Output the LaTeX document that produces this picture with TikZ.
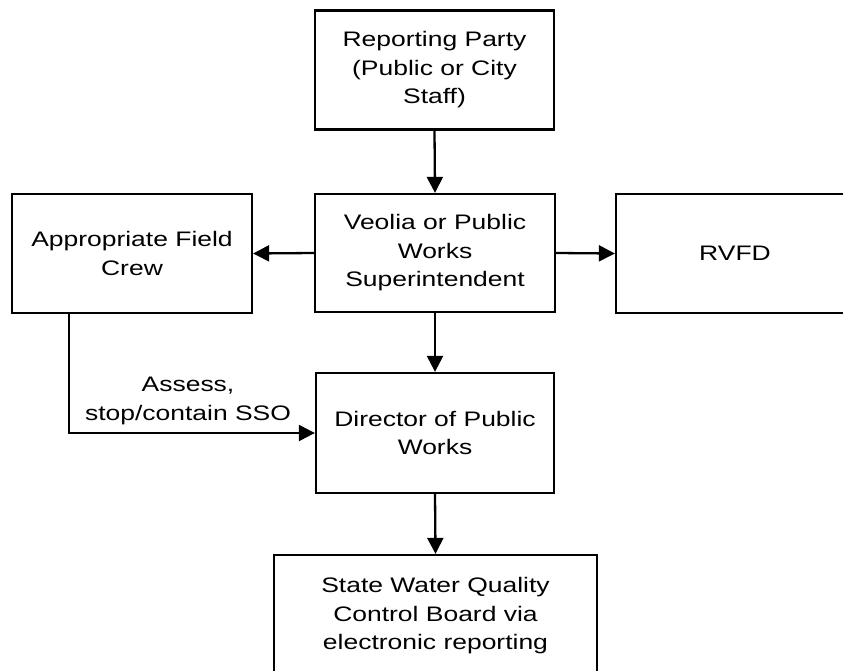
\documentclass[tikz,border=0pt]{standalone}
\usepackage{fontspec}
\setmainfont[FakeStretch=1.26]{Liberation Sans}
\usetikzlibrary{arrows.meta}
\begin{document}
\begin{tikzpicture}[x=1pt,y=-1pt,
  box/.style={draw=black,line width=2.3pt,rectangle,align=center,inner sep=0pt,
    font=\fontsize{21}{28.5}\selectfont},
  arr/.style={draw=black,line width=2.3pt,-{Triangle[length=16pt,width=16pt]}},
  lbl/.style={align=center,inner sep=0pt,font=\fontsize{21}{28.5}\selectfont}]
\clip (0,0) rectangle (843,671);
\fill[white] (0,0) rectangle (843,671);
\node[box,minimum width=239pt,minimum height=119pt] (rp) at (434.5,70) {Reporting Party\\(Public or City\\Staff)};
\node[box,minimum width=240pt,minimum height=118pt] (veo) at (435,253) {Veolia or Public\\Works\\Superintendent};
\node[box,minimum width=240pt,minimum height=119pt] (afc) at (132,253.5) {Appropriate Field\\Crew};
\node[box,minimum width=238pt,minimum height=119pt] (rvfd) at (735,253.5) {RVFD};
\node[box,minimum width=238pt,minimum height=120pt] (dir) at (435,433) {Director of Public\\Works};
\node[box,minimum width=323pt,minimum height=122pt] (swq) at (435.5,616) {State Water Quality\\Control Board via\\electronic reporting};
\node[lbl] (assess) at (188,401) {Assess,\\stop/contain SSO};
\coordinate (bend) at (69,433);
\draw[arr] (rp.south) -- (veo.north);
\draw[arr] (veo.west) -- (afc.east);
\draw[arr] (veo.east) -- (rvfd.west);
\draw[arr] (veo.south) -- (dir.north);
\draw[arr] (afc.south -| bend) |- (dir.west |- bend);
\draw[arr] (dir.south) -- (swq.north);
\end{tikzpicture}
\end{document}
